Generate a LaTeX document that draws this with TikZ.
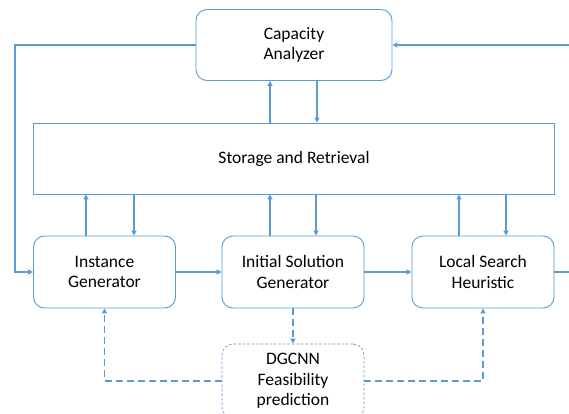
\documentclass[tikz,border=0pt]{standalone}
\usepackage{fontspec}
\setmainfont{Carlito}
\usetikzlibrary{arrows.meta}
\definecolor{flow}{RGB}{91,155,213}

\begin{document}
\begin{tikzpicture}[x=1pt,y=-1pt,
  box/.style={draw=flow,line width=0.9pt,rounded corners=11pt,align=center,
    minimum width=142pt,minimum height=72pt,font=\fontsize{17.5}{20.5}\selectfont},
  arr/.style={draw=flow,line width=1.6pt,-{Triangle[length=5pt,width=5pt]}},
  darr/.style={arr,dash pattern=on 7pt off 4pt}]
  \clip (0,0) rectangle (569,414);
  \path (294,45) node[box,minimum width=196pt,minimum height=71pt] (ca) {Capacity\\Analyzer}
  (294,158.5) node[box,rounded corners=0pt,minimum width=521pt,minimum height=71pt] (store) {Storage and Retrieval}
  (104.5,272) node[box] (ig) {Instance\\Generator}
  (293,272) node[box] (isg) {Initial Solution\\Generator}
  (483,272) node[box] (lsh) {Local Search\\Heuristic}
  (293,381) node[box,dash pattern=on 2.5pt off 2pt,line width=0.7pt,minimum height=74pt] (dg) {DGCNN\\Feasibility\\prediction};
  \coordinate (fb) at (15,45);
  \coordinate (rin) at (575,45);
  \coordinate (rout) at (575,272);
  % loop back from the analyzer and the two open ends on the right
  \draw[arr] (ca.west) -- (fb) |- (ig.west);
  \draw[arr] (rin) -- (ca.east);
  \draw[arr,-] (lsh.east) -- (rout);
  \draw[arr] (ig.east) -- (isg.west);
  \draw[arr] (isg.east) -- (lsh.west);
  % storage traffic
  \draw[arr] ([xshift=-24pt]store.north) -- ([xshift=-24pt]ca.south);
  \draw[arr] ([xshift=23pt]ca.south) -- ([xshift=23pt]store.north);
  \draw[arr] ([xshift=-18.5pt]ig.north) -- ([xshift=-18.5pt]ig.north |- store.south);
  \draw[arr] ([xshift=29.5pt]ig.north |- store.south) -- ([xshift=29.5pt]ig.north);
  \draw[arr] ([xshift=-23pt]isg.north) -- ([xshift=-23pt]isg.north |- store.south);
  \draw[arr] ([xshift=23pt]isg.north |- store.south) -- ([xshift=23pt]isg.north);
  \draw[arr] ([xshift=-24pt]lsh.north) -- ([xshift=-24pt]lsh.north |- store.south);
  \draw[arr] ([xshift=23pt]lsh.north |- store.south) -- ([xshift=23pt]lsh.north);
  % feasibility predictor
  \draw[darr] (isg.south) -- (dg.north);
  \draw[darr] (dg.west) -| (ig.south);
  \draw[darr] (dg.east) -| (lsh.south);
\end{tikzpicture}
\end{document}
